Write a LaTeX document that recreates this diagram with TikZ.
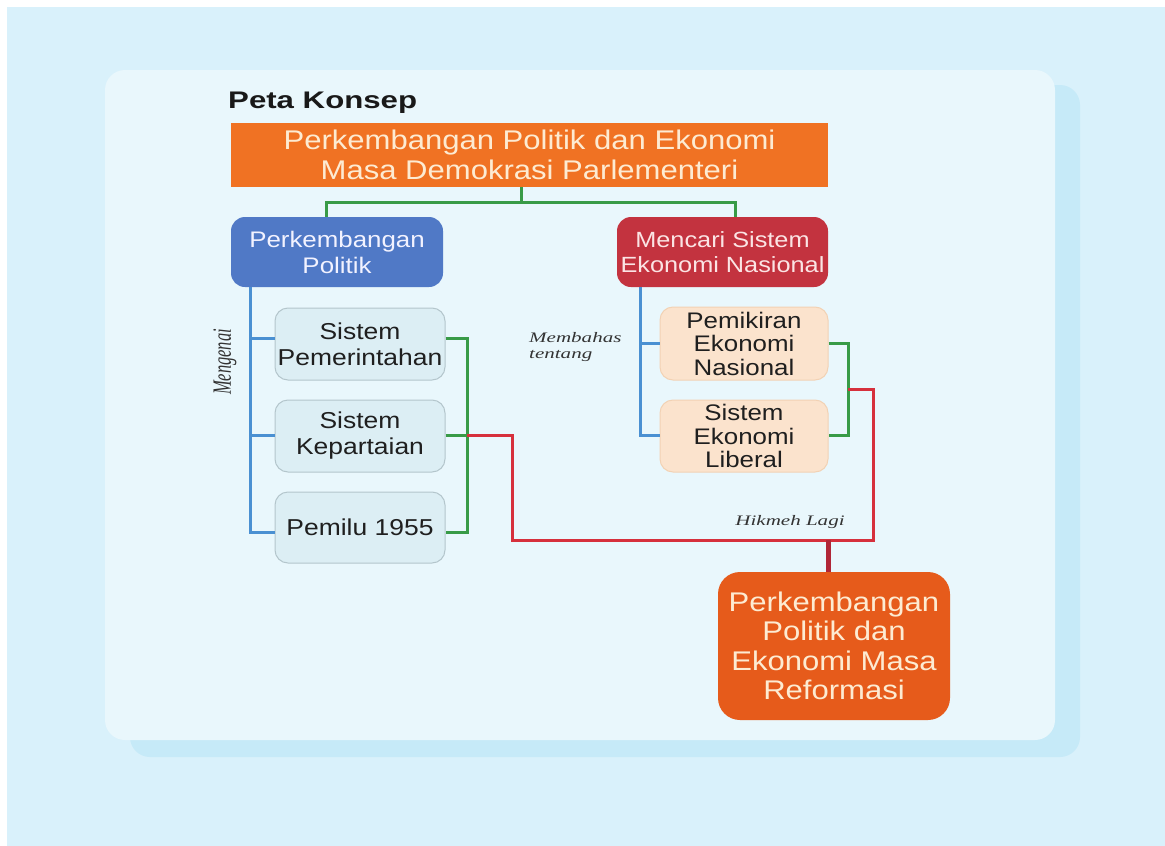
\documentclass[tikz,border=0pt]{standalone}
\usepackage{fontspec}
\usepackage{graphicx}
\setmainfont{Liberation Sans}[FakeStretch=1.15]
\newfontfamily\headfont{Liberation Sans}[FakeStretch=1.3]
\newfontfamily\lblfont{Liberation Serif}[FakeStretch=1.45]
\newfontfamily\lblplain{Liberation Serif}
\definecolor{bgblue}{HTML}{D9F1FB}
\definecolor{shadowblue}{HTML}{C6EAF8}
\definecolor{cardblue}{HTML}{E9F7FC}
\definecolor{orangeT}{HTML}{F07223}
\definecolor{creamT}{HTML}{FDEBD2}
\definecolor{blueBox}{HTML}{5079C6}
\definecolor{redBox}{HTML}{C3333F}
\definecolor{pinkT}{HTML}{FBE4E4}
\definecolor{grayFill}{HTML}{DCEEF4}
\definecolor{grayEdge}{HTML}{B4C6CC}
\definecolor{peachFill}{HTML}{FBE3CD}
\definecolor{peachEdge}{HTML}{F2D2B4}
\definecolor{orangeR}{HTML}{E65B1B}
\definecolor{glc}{HTML}{389B47}
\definecolor{blc}{HTML}{4A90D2}
\definecolor{rlc}{HTML}{D6303C}
\definecolor{drlc}{HTML}{B02637}
\begin{document}
\begin{tikzpicture}[x=1pt,y=-1pt,
  boxbase/.style={align=center, inner sep=0pt},
  topbox/.style={boxbase, fill=orangeT, text=creamT, minimum width=597pt, minimum height=64pt, font=\fontsize{27}{30}\selectfont},
  mainbox/.style={boxbase, rounded corners=14pt, minimum width=212pt, minimum height=70pt, font=\fontsize{22.5}{26}\selectfont},
  graybox/.style={boxbase, rounded corners=13pt, fill=grayFill, draw=grayEdge, line width=1pt, text=black!88, minimum width=170pt, minimum height=72pt, font=\fontsize{23}{26}\selectfont},
  peachbox/.style={boxbase, rounded corners=13pt, fill=peachFill, draw=peachEdge, line width=1pt, text=black!88, minimum width=168pt, minimum height=73pt, font=\fontsize{22.5}{23.5}\selectfont},
  refbox/.style={boxbase, rounded corners=22pt, fill=orangeR, text=creamT, minimum width=232pt, minimum height=148pt, font=\fontsize{27}{29.5}\selectfont},
  lbl/.style={inner sep=0pt, text=black!80, font=\lblfont\itshape\fontsize{14.5}{15.5}\selectfont},
  gline/.style={draw=glc, line width=3pt},
  bline/.style={draw=blc, line width=3pt},
  rline/.style={draw=rlc, line width=3pt},
  drline/.style={draw=drlc, line width=5pt}
]
\useasboundingbox (0,0) rectangle (1165,846);
\fill[white] (0,0) rectangle (1165,846);
\fill[bgblue] (7,7) rectangle (1165,846);
\fill[shadowblue, rounded corners=20pt] (130,85) rectangle (1080,757);
\fill[cardblue, rounded corners=20pt] (105,70) rectangle (1055,740);

\node[inner sep=0pt, anchor=base west, text=black!90, font=\headfont\bfseries\fontsize{24}{26}\selectfont] (peta) at (228,108) {Peta Konsep};

\node[topbox] (top) at (529.5,155) {Perkembangan Politik dan Ekonomi\\Masa Demokrasi Parlementeri};
\node[mainbox, fill=blueBox, text=white!95!blue] (pp) at (337,252) {Perkembangan\\Politik};
\node[mainbox, fill=redBox, text=pinkT, minimum width=211pt, font=\fontsize{22}{25}\selectfont] (mc) at (722.5,252) {Mencari Sistem\\Ekonomi Nasional};

\node[graybox] (s1) at (360,344) {Sistem\\Pemerintahan};
\node[graybox] (s2) at (360,436) {Sistem\\Kepartaian};
\node[graybox, minimum height=71pt] (s3) at (360,527.5) {Pemilu 1955};

\node[peachbox] (p1) at (744,343.5) {Pemikiran\\Ekonomi\\Nasional};
\node[peachbox, minimum height=72pt] (p2) at (744,436) {Sistem\\Ekonomi\\Liberal};

\node[refbox] (rf) at (834,646) {Perkembangan\\Politik dan\\Ekonomi Masa\\Reformasi};

\node[inner sep=0pt, text=black!80] (mg) at (225,362) {\scalebox{1.6}[1]{\rotatebox{90}{\lblplain\itshape\fontsize{16.5}{18}\selectfont Mengenai}}};
\node[lbl, anchor=west, align=left] (mb) at (529,347) {Membahas\\tentang};
\node[lbl] (hl) at (790,522) {Hikmeh Lagi};

% junction coordinates
\coordinate (gxM) at (521,202);
\coordinate (gxL) at (326,202);
\coordinate (gxR) at (735,202);
\coordinate (bl) at (250,0);
\coordinate (br) at (640,0);
\coordinate (gb) at (467,0);
\coordinate (gb2) at (848,0);
\coordinate (t1) at (0,338);
\coordinate (t2) at (0,435);
\coordinate (t3) at (0,532);
\coordinate (u1) at (0,343);
\coordinate (u2) at (0,435);
\coordinate (rx1) at (512,0);
\coordinate (rx2) at (873,0);
\coordinate (ry) at (0,540);
\coordinate (rt) at (0,389);
\coordinate (dr) at (828,0);

% top green connector
\draw[gline] (top.south -| gxM) -- (gxM);
\draw[gline] (pp.north -| gxL) -- (gxL) -- (gxR) -- (mc.north -| gxR);

% left blue
\draw[bline] (pp.south -| bl) |- (s3.west |- t3);
\draw[bline] (bl |- t1) -- (s1.west |- t1);
\draw[bline] (bl |- t2) -- (s2.west |- t2);
% right blue
\draw[bline] (mc.south -| br) |- (p2.west |- u2);
\draw[bline] (br |- u1) -- (p1.west |- u1);

% green brackets
\draw[gline] (s1.east |- t1) -| (gb |- t3) -- (s3.east |- t3);
\draw[gline] (s2.east |- t2) -- (gb |- t2);
\draw[gline] (p1.east |- u1) -| (gb2 |- u2) -- (p2.east |- u2);

% red connector
\draw[rline] (gb |- t2) -| (rx1 |- ry) -| (rx2 |- rt) -- (gb2 |- rt);
\draw[drline] (dr |- ry) -- (rf.north -| dr);
\end{tikzpicture}
\end{document}
